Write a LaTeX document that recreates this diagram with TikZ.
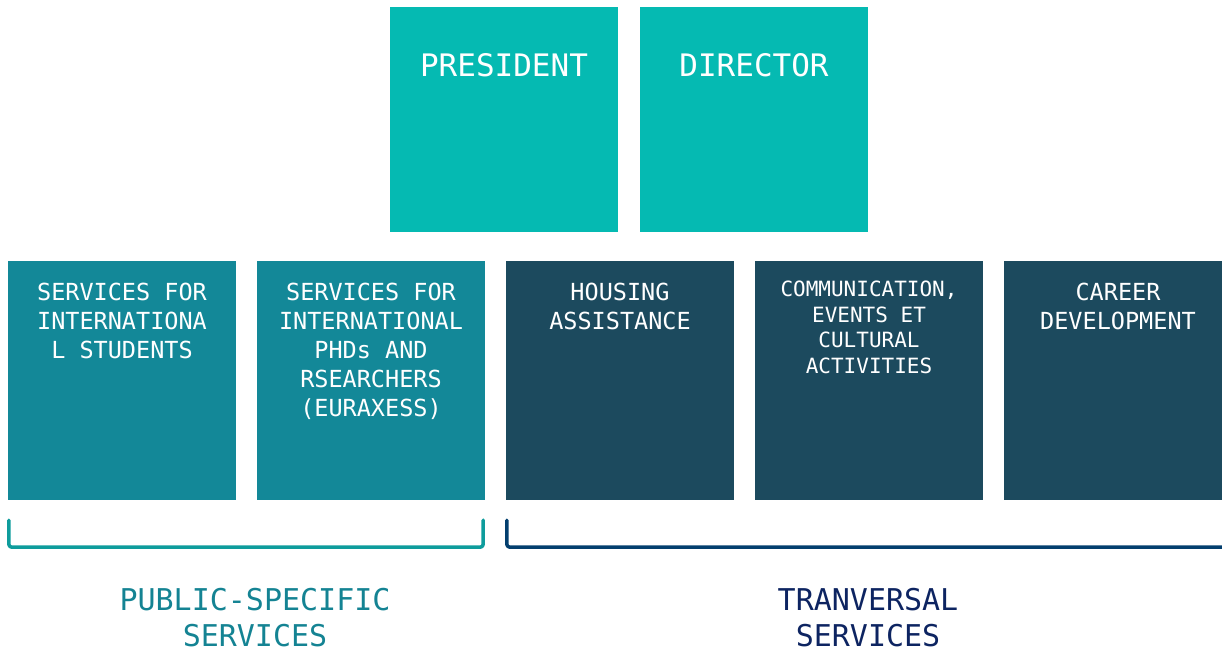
\documentclass[tikz,border=0pt]{standalone}
\usepackage{fontspec}
\setmonofont{DejaVu Sans Mono}
\usetikzlibrary{positioning}
\definecolor{topteal}{HTML}{05BAB2}
\definecolor{midteal}{HTML}{138898}
\definecolor{darkpetrol}{HTML}{1C4A5E}
\definecolor{braceteal}{HTML}{0E9C9C}
\definecolor{bracenavy}{HTML}{033F6E}
\definecolor{labelteal}{HTML}{148393}
\definecolor{labelnavy}{HTML}{0D2461}
\tikzset{
  box/.style={rectangle, inner sep=0pt, minimum width=228pt},
  topbox/.style={box, fill=topteal, minimum height=225pt},
  pubbox/.style={box, fill=midteal, minimum height=239pt},
  travbox/.style={box, fill=darkpetrol, minimum height=239pt},
  toptext/.style={anchor=north, inner sep=0pt, text=white, align=center,
    font=\ttfamily\fontsize{31}{37}\selectfont},
  boxtext/.style={anchor=north, inner sep=0pt, text=white, align=center,
    font=\ttfamily\fontsize{23.5}{29}\selectfont},
  smalltext/.style={anchor=north, inner sep=0pt, text=white, align=center,
    font=\ttfamily\fontsize{21}{25.5}\selectfont},
  grouptext/.style={anchor=north, inner sep=0pt, align=center,
    font=\ttfamily\fontsize{30}{36}\selectfont},
  brace/.style={line width=3.5pt, rounded corners=3pt}
}
\begin{document}
\begin{tikzpicture}[x=1pt, y=-1pt, line join=round, line cap=round]
\clip (0,0) rectangle (1222,652);
% hàng trên
\node[topbox] (pres) at (504,119.5) {};
\node[topbox] (dir) at (754,119.5) {};
\node[toptext, below=46pt of pres.north] (presT) {PRESIDENT};
\node[toptext, below=46pt of dir.north] (dirT) {DIRECTOR};
% hàng dưới
\node[pubbox] (stud) at (122,380.5) {};
\node[pubbox] (phd) at (371,380.5) {};
\node[travbox] (hous) at (620,380.5) {};
\node[travbox] (comm) at (869,380.5) {};
\node[travbox] (car) at (1118,380.5) {};
\node[boxtext, below=22pt of stud.north] (studT) {SERVICES FOR\\INTERNATIONA\\L STUDENTS};
\node[boxtext, below=22pt of phd.north] (phdT) {SERVICES FOR\\INTERNATIONAL\\PHDs AND\\RSEARCHERS\\(EURAXESS)};
\node[boxtext, below=22pt of hous.north] (housT) {HOUSING\\ASSISTANCE};
\node[smalltext, below=20pt of comm.north] (commT) {COMMUNICATION,\\EVENTS ET\\CULTURAL\\ACTIVITIES};
\node[boxtext, below=22pt of car.north] (carT) {CAREER\\DEVELOPMENT};
% ngoặc nhóm
\draw[brace, braceteal] ([shift={(1pt,-20pt)}]stud.south west) -- ([shift={(1pt,-47pt)}]stud.south west)
  -- ([shift={(-2pt,-47pt)}]phd.south east) -- ([shift={(-2pt,-20pt)}]phd.south east);
\draw[brace, bracenavy] ([shift={(1pt,-20pt)}]hous.south west) -- ([shift={(1pt,-47pt)}]hous.south west)
  -- ([shift={(20pt,-47pt)}]car.south east);
% nhãn nhóm
\node[grouptext, text=labelteal] (pubT) at (255,588) {PUBLIC-SPECIFIC\\SERVICES};
\node[grouptext, text=labelnavy] (travT) at (868,588) {TRANVERSAL\\SERVICES};
\end{tikzpicture}
\end{document}
